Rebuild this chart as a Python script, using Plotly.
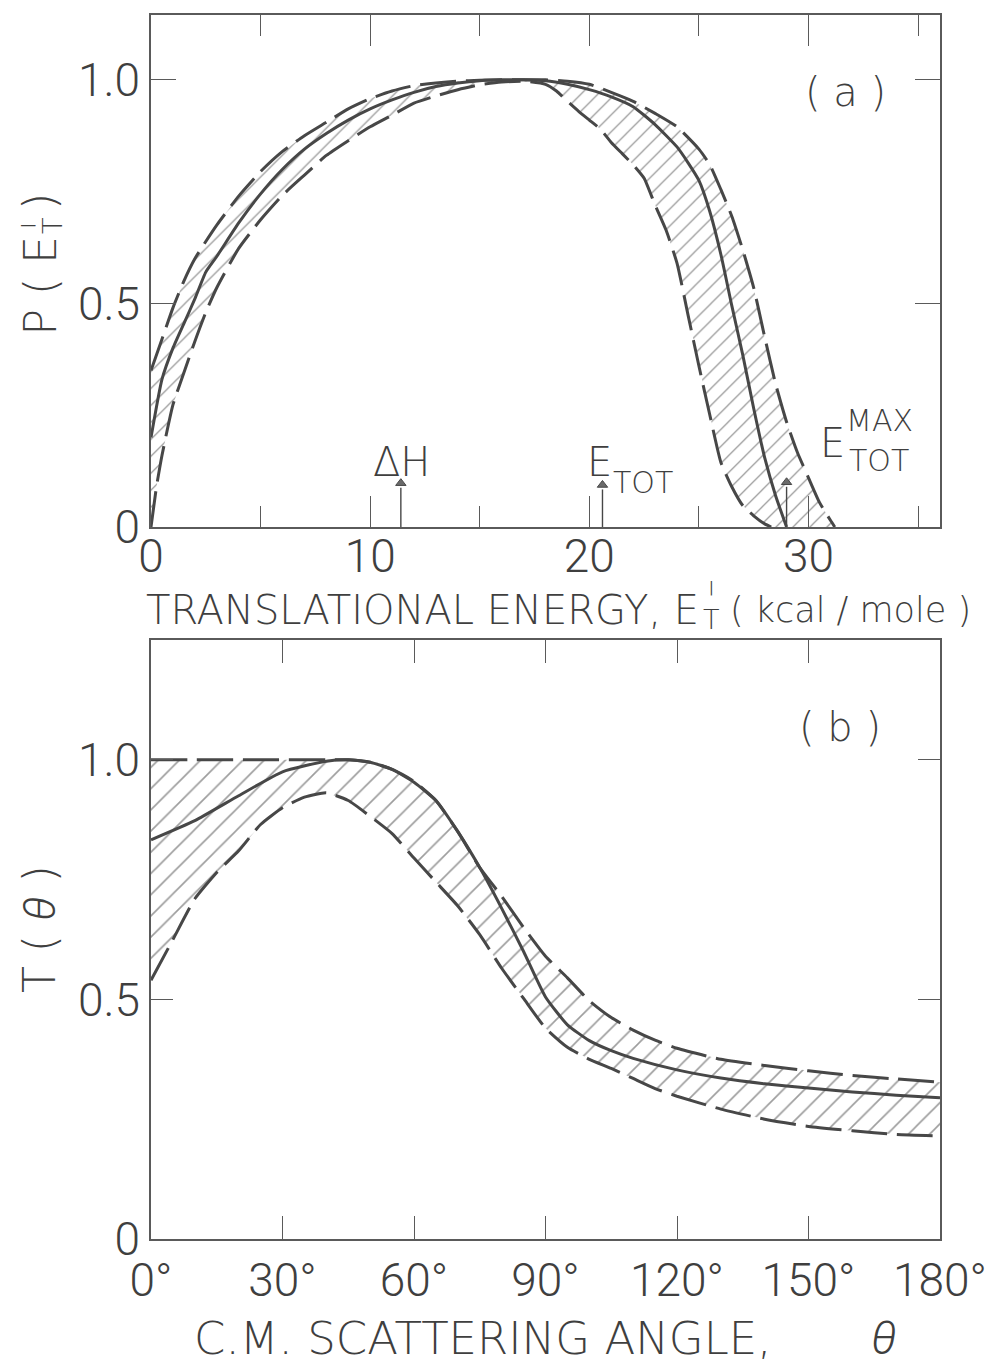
import plotly.graph_objects as go

# ---------------- Panel (a): P(E'_T) vs translational energy ----------------
energy_upper = [0, 0.5, 1.0, 1.5, 2.0, 3.0, 4.0, 5.0, 6.0, 7.0, 8.0, 9.0, 10.0, 11.0, 12.0,
                13.0, 14.0, 15.0, 16.0, 17.0, 18.0, 19.0, 20.0, 21.0, 22.0, 23.0, 24.0, 25.0,
                25.5, 26.0, 26.5, 27.0, 27.5, 28.0, 28.5, 29.0, 29.5, 30.0, 30.5, 31.0, 31.2]
p_upper = [0.35, 0.42, 0.49, 0.55, 0.60, 0.675, 0.74, 0.795, 0.84, 0.875, 0.905, 0.935, 0.958,
           0.975, 0.987, 0.993, 0.997, 0.999, 1.0, 1.0, 1.0, 0.997, 0.99, 0.972, 0.952, 0.925,
           0.895, 0.845, 0.81, 0.755, 0.695, 0.62, 0.535, 0.425, 0.32, 0.235, 0.166, 0.11, 0.055,
           0.015, 0.0]

energy_lower = [0, 0.25, 0.5, 1.0, 1.5, 2.0, 2.5, 3.0, 4.0, 5.0, 6.0, 7.0, 8.0, 9.0, 10.0, 11.0,
                12.0, 13.0, 14.0, 15.0, 16.0, 17.0, 18.0, 18.5, 19.0, 19.5, 20.0, 20.5, 21.0,
                21.5, 22.0, 22.5, 23.0, 23.5, 24.0, 24.5, 25.0, 25.5, 26.0, 26.5, 27.0, 27.5,
                28.0, 28.3]
p_lower = [0.0, 0.09, 0.16, 0.273, 0.345, 0.415, 0.48, 0.535, 0.623, 0.687, 0.742, 0.787, 0.831,
           0.864, 0.895, 0.921, 0.948, 0.964, 0.978, 0.989, 0.995, 0.997, 0.99, 0.975, 0.952,
           0.93, 0.91, 0.89, 0.86, 0.835, 0.81, 0.78, 0.72, 0.664, 0.59, 0.475, 0.36, 0.25,
           0.145, 0.09, 0.048, 0.025, 0.007, 0.0]

energy_best = [0, 0.5, 1.0, 1.5, 2.0, 2.5, 3.0, 4.0, 5.0, 6.0, 7.0, 8.0, 9.0, 10.0, 11.0, 12.0,
               13.0, 14.0, 15.0, 16.0, 17.0, 18.0, 19.0, 20.0, 21.0, 22.0, 23.0, 24.0, 24.5,
               25.0, 25.5, 26.0, 26.5, 27.0, 27.5, 28.0, 28.5, 29.0]
p_best = [0.2, 0.33, 0.40, 0.455, 0.51, 0.57, 0.605, 0.68, 0.745, 0.80, 0.845, 0.88, 0.91, 0.935,
          0.955, 0.972, 0.985, 0.993, 0.998, 1.0, 1.0, 0.998, 0.99, 0.978, 0.962, 0.94, 0.90,
          0.85, 0.815, 0.775, 0.705, 0.61, 0.495, 0.385, 0.265, 0.155, 0.07, 0.0]

# reference energies marked with arrows (kcal/mole): Delta H, E_TOT, E_TOT^MAX
marker_energy = [11.4, 20.6, 29.0]
marker_height = [0.098, 0.094, 0.10]

energy_ticks = [0, 10, 20, 30]
energy_minor_ticks = [5, 15, 25, 35]

# ---------------- Panel (b): T(theta) vs c.m. scattering angle ----------------
angle_upper = [0, 10, 20, 30, 40, 45, 50, 55, 60, 65, 70, 75, 80, 85, 90, 95, 100, 105, 110,
               115, 120, 130, 140, 150, 160, 170, 180]
t_upper = [1.0, 1.0, 1.0, 1.0, 1.0, 1.0, 0.995, 0.98, 0.955, 0.915, 0.85, 0.775, 0.715, 0.65,
           0.59, 0.545, 0.497, 0.462, 0.436, 0.415, 0.398, 0.375, 0.362, 0.351, 0.341, 0.334,
           0.327]

angle_lower = [0, 5, 10, 15, 20, 25, 30, 35, 40, 45, 50, 55, 60, 65, 70, 75, 80, 85, 90, 95,
               100, 105, 110, 115, 120, 130, 140, 150, 160, 170, 180]
t_lower = [0.54, 0.625, 0.71, 0.765, 0.81, 0.865, 0.9, 0.922, 0.931, 0.915, 0.882, 0.846, 0.795,
           0.745, 0.695, 0.635, 0.565, 0.502, 0.44, 0.40, 0.375, 0.356, 0.335, 0.314, 0.298,
           0.271, 0.25, 0.235, 0.226, 0.218, 0.215]

angle_best = [0, 10, 20, 30, 40, 45, 50, 55, 60, 65, 70, 75, 80, 85, 90, 95, 100, 105, 110,
              120, 130, 140, 150, 160, 170, 180]
t_best = [0.833, 0.873, 0.925, 0.975, 0.997, 1.0, 0.995, 0.98, 0.953, 0.915, 0.85, 0.775, 0.69,
          0.60, 0.505, 0.447, 0.414, 0.393, 0.377, 0.353, 0.336, 0.324, 0.315, 0.307, 0.30, 0.295]

angle_ticks = [0, 30, 60, 90, 120, 150, 180]
angle_tick_text = [f"{a}°" for a in angle_ticks]

value_ticks = [0, 0.5, 1.0]
value_tick_text = ["0", "0.5", "1.0"]

# ---------------- styling ----------------
W, H = 1000, 1368
INK = "#474747"
AXIS = "#5a5a5a"
TEXT = "#3f3f3f"
TICK_FONT = "Roboto"
LABEL_FONT = "DejaVu Sans"
THETA = '<span style="font-family:Roboto;font-weight:300;font-style:italic">θ</span>'


def px(x, y):
    """Pixel position on the page -> paper coordinates (margins are zero)."""
    return x / W, 1 - y / H


fig = go.Figure()


def add_band(xs_up, ys_up, xs_lo, ys_lo, xa, ya, hatch):
    fig.add_trace(go.Scatter(
        x=list(xs_up) + list(xs_lo)[::-1],
        y=list(ys_up) + list(ys_lo)[::-1],
        mode="lines", fill="toself",
        line=dict(width=0, color="rgba(0,0,0,0)"),
        fillcolor="rgba(0,0,0,0)",
        fillpattern=dict(shape="/", size=hatch, solidity=0.11, fgcolor="#3c3c3c",
                         bgcolor="rgba(0,0,0,0)", fillmode="overlay"),
        xaxis=xa, yaxis=ya, hoverinfo="skip", showlegend=False))


def add_curve(xs, ys, xa, ya, dashed):
    fig.add_trace(go.Scatter(
        x=xs, y=ys, mode="lines",
        line=dict(color=INK, width=3, dash="36px,10px" if dashed else "solid",
                  shape="spline", smoothing=0.5),
        xaxis=xa, yaxis=ya, hoverinfo="skip", showlegend=False))


add_band(energy_upper, p_upper, energy_lower, p_lower, "x", "y", 12)
add_curve(energy_upper, p_upper, "x", "y", True)
add_curve(energy_lower, p_lower, "x", "y", True)
add_curve(energy_best, p_best, "x", "y", False)

add_band(angle_upper, t_upper, angle_lower, t_lower, "x2", "y2", 15)
add_curve(angle_upper, t_upper, "x2", "y2", True)
add_curve(angle_lower, t_lower, "x2", "y2", True)
add_curve(angle_best, t_best, "x2", "y2", False)

# arrows marking Delta H, E_TOT and E_TOT^MAX: a shaft plus a small head
for e, h in zip(marker_energy, marker_height):
    fig.add_trace(go.Scatter(x=[e, e], y=[0, h - 0.01], mode="lines",
                             line=dict(color=INK, width=1.4),
                             xaxis="x", yaxis="y", hoverinfo="skip", showlegend=False))
fig.add_trace(go.Scatter(x=marker_energy, y=marker_height, mode="markers",
                         marker=dict(symbol="triangle-up", size=9, color="#6a6a6a",
                                     line=dict(color=INK, width=1)),
                         xaxis="x", yaxis="y", hoverinfo="skip", showlegend=False))

axis_common = dict(showline=True, linecolor=AXIS, linewidth=1.6, mirror="ticks",
                   ticks="inside", tickcolor=AXIS, tickwidth=1.4, showgrid=False,
                   zeroline=False, automargin=False,
                   tickfont=dict(size=46, color=TEXT, family=TICK_FONT, weight=300))

x0, x1 = 151 / W, 940 / W
fig.update_layout(
    width=W, height=H, margin=dict(l=0, r=0, t=0, b=0),
    paper_bgcolor="white", plot_bgcolor="white",
    font=dict(family=LABEL_FONT, color=TEXT, weight=200),
    xaxis=dict(domain=[x0, x1], range=[0, 36], tickvals=energy_ticks, ticklen=31,
               ticklabelstandoff=-12,
               minor=dict(tickvals=energy_minor_ticks, ticks="inside", ticklen=21,
                          tickwidth=1.4, tickcolor=AXIS),
               anchor="y", **axis_common),
    yaxis=dict(domain=[1 - 527 / H, 1 - 15 / H], range=[0, 1.145], tickvals=value_ticks,
               ticktext=value_tick_text, ticklen=25, anchor="x", **axis_common),
    xaxis2=dict(domain=[x0, x1], range=[0, 180], tickvals=angle_ticks,
                ticktext=angle_tick_text, ticklen=23, anchor="y2", **axis_common),
    yaxis2=dict(domain=[1 - 1239 / H, 1 - 640 / H], range=[0, 1.25], tickvals=value_ticks,
                ticktext=value_tick_text, ticklen=22, anchor="x2", **axis_common),
)


def label(text, x, y, size, xanchor="center", yanchor="middle", angle=0, weight=200):
    ax_, ay_ = px(x, y)
    fig.add_annotation(x=ax_, y=ay_, xref="paper", yref="paper", text=text, showarrow=False,
                       xanchor=xanchor, yanchor=yanchor, textangle=angle,
                       font=dict(size=size, color=TEXT, family=LABEL_FONT, weight=weight))


# panel tags
label("( a )", 845, 92, 40)
label("( b )", 840, 727, 40)

# energy markers
label("ΔH", 401, 462, 40)
label("E", 599, 462, 40)
label("TOT", 611, 482, 30, xanchor="left")
label("E", 832, 443, 40)
label("MAX", 844, 421, 30, xanchor="left")
label("TOT", 847, 460, 30, xanchor="left")

# x-axis title of panel (a), with the primed E stacked over its T subscript
label("TRANSLATIONAL ENERGY, E", 701, 610, 40, xanchor="right")
label("|", 711, 587, 14, weight=400)
label("T", 711, 619, 27)
label("( kcal / mole )", 728, 610, 35, xanchor="left")

# x-axis title of panel (b)
label("C.M. SCATTERING ANGLE,", 192, 1338, 45, xanchor="left")
label(THETA, 884, 1338, 46)

# y-axis titles (rotated)
label("P ( E", 40, 338, 44, yanchor="bottom", angle=-90)
label("|", 27, 226, 14, angle=-90, weight=400)
label("T", 52, 226, 27, angle=-90)
label(")", 40, 202, 44, angle=-90)
label("T ( " + THETA + " )", 40, 929, 44, angle=-90)

fig.write_html("out.html")
